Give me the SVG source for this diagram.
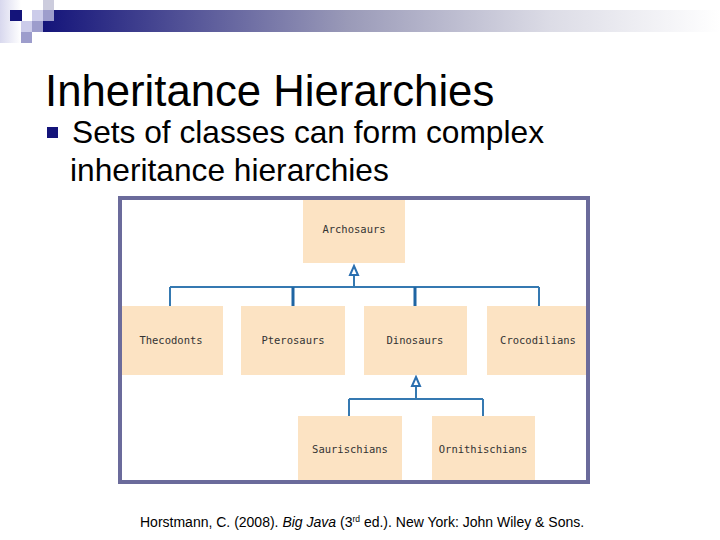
<svg xmlns="http://www.w3.org/2000/svg" width="720" height="540" viewBox="0 0 720 540">
<defs>
<linearGradient id="bar" x1="0" y1="0" x2="1" y2="0">
<stop offset="0" stop-color="#14147a"/>
<stop offset="0.45" stop-color="#9a9ab8"/>
<stop offset="0.75" stop-color="#dcdce6"/>
<stop offset="1" stop-color="#ffffff"/>
</linearGradient>
<linearGradient id="lft" x1="0" y1="0" x2="1" y2="0">
<stop offset="0" stop-color="#d8d8ee"/>
<stop offset="1" stop-color="#ffffff"/>
</linearGradient>
<style>
.node rect{fill:#fce3c3}
.node text{font-family:"DejaVu Sans Mono","Liberation Mono",monospace;font-size:10.5px;fill:#333;text-anchor:middle}
.ln{stroke:#3579b1;stroke-width:2;fill:none}
.lnk{stroke:#1f65a3;stroke-width:3;fill:none}
.arr{stroke:#2a6fb0;stroke-width:2;fill:#fff}
.hd{font-family:"Liberation Sans",Arial,sans-serif;fill:#000}
</style>
</defs>
<rect width="720" height="540" fill="#fff"/>
<!-- header decoration -->
<rect x="0" y="0" width="21" height="43" fill="url(#lft)"/>
<rect x="43" y="10" width="677" height="22" fill="url(#bar)"/>
<rect x="10" y="10" width="12" height="11" fill="#14147a"/>
<rect x="32" y="10" width="11" height="11" fill="#ccccea"/>
<rect x="43" y="0" width="11" height="10" fill="#ccccdd"/>
<rect x="43" y="10" width="11" height="11" fill="#9d9dcc"/>
<rect x="21" y="21" width="11" height="11" fill="#ccccea"/>
<rect x="32" y="21" width="11" height="11" fill="#9d9dcc"/>
<rect x="21" y="32" width="11" height="11" fill="#9d9dcc"/>
<!-- title -->
<text class="hd" x="45" y="106" font-size="43.7">Inheritance Hierarchies</text>
<rect x="47" y="127" width="11" height="11" fill="#14147a"/>
<text class="hd" x="72" y="143" font-size="31.7">Sets of classes can form complex</text>
<text class="hd" x="70" y="181" font-size="31.7">inheritance hierarchies</text>
<!-- frame -->
<rect x="120" y="198" width="468" height="284" fill="#fff" stroke="#6b6b9b" stroke-width="4"/>
<!-- connectors -->
<g id="connectors">
<path class="ln" d="M354 275V287M170 287H539M170 287V306M539 287V306"/>
<path class="lnk" d="M293 287V306M415 287V306"/>
<path class="arr" d="M354 266L358 275H350Z"/>
<path class="ln" d="M416 386V399M349 399H483M349 399V416M483 399V416"/>
<path class="arr" d="M416 377L420 386H412Z"/>
</g>
<!-- nodes -->
<g id="archosaurs" class="node"><rect x="303" y="200" width="102" height="63"/><text x="354" y="233">Archosaurs</text></g>
<g id="thecodonts" class="node"><rect x="122" y="306" width="101" height="69"/><text x="171" y="344">Thecodonts</text></g>
<g id="pterosaurs" class="node"><rect x="241" y="306" width="104" height="69"/><text x="293" y="344">Pterosaurs</text></g>
<g id="dinosaurs" class="node"><rect x="364" y="306" width="103" height="69"/><text x="415" y="344">Dinosaurs</text></g>
<g id="crocodilians" class="node"><rect x="487" y="306" width="99" height="69"/><text x="538" y="344">Crocodilians</text></g>
<g id="saurischians" class="node"><rect x="298" y="416" width="104" height="64"/><text x="350" y="453">Saurischians</text></g>
<g id="ornithischians" class="node"><rect x="432" y="416" width="103" height="64"/><text x="483" y="453">Ornithischians</text></g>
<!-- citation -->
<text class="hd" x="140" y="527" font-size="14">Horstmann, C. (2008). <tspan font-style="italic">Big Java</tspan> (3<tspan font-size="8.5" dy="-5">rd</tspan><tspan dy="5"> ed.). New York: John Wiley &amp; Sons.</tspan></text>
</svg>
